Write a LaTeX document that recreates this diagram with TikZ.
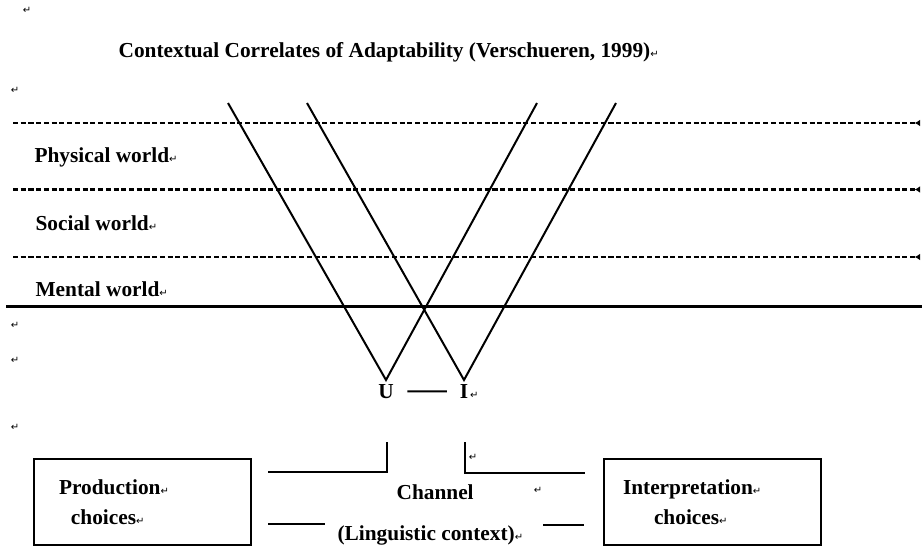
\documentclass[tikz,border=0pt]{standalone}
\usepackage{fontspec}
\setmainfont{Liberation Serif}
\newfontfamily\markfont{DejaVu Sans}
\newcommand{\parmark}{{\normalfont\markfont\fontsize{7.5}{7.5}\selectfont ↵}}
\usetikzlibrary{arrows.meta, positioning}

\begin{document}
\begin{tikzpicture}[x=0.75pt, y=-0.75pt,
    lbl/.style={font=\bfseries\fontsize{16}{22.5}\selectfont, inner sep=1pt},
    pm/.style={inner sep=0pt},
    band/.style={line width=1.6pt, dash pattern=on 3.8pt off 2pt,
                 -{Latex[reversed, length=4pt, width=5pt]}},
    ray/.style={line width=1.5pt},
    box/.style={draw, line width=1.5pt, minimum width=162.75pt,
                minimum height=64.5pt, anchor=north west, align=left,
                font=\bfseries\fontsize{16}{22.5}\selectfont}]
  \useasboundingbox (0,0) rectangle (922,546);

  \node[lbl, anchor=west] (title) at (117,52)
    {Contextual Correlates of Adaptability (Verschueren, 1999)\parmark};
  \node[pm] (m1) at (27,10) {\parmark};
  \node[pm] (m2) at (15,90) {\parmark};
  \node[pm] (m3) at (15,325) {\parmark};
  \node[pm] (m4) at (15,360) {\parmark};
  \node[pm] (m5) at (15,427) {\parmark};

  \draw[band] (13,123) -- (920,123);
  \draw[band] (13,189.5) -- (920,189.5);
  \draw[band] (13,257) -- (920,257);
  \draw[line width=1.8pt] (6,306.5) -- (922,306.5);

  \node[lbl, anchor=west] (phys) at (33,157) {Physical world\parmark};
  \node[lbl, anchor=west] (soc) at (34,223) {Social world\parmark};
  \node[lbl, anchor=west] (ment) at (34,289) {Mental world\parmark};

  \node[lbl, anchor=north, inner ysep=3pt] (U) at (386,380) {U};
  \node[lbl, anchor=north, inner ysep=3pt] (I) at (464,380) {I};
  \node[pm, anchor=base west] (m8) at (I.base east) {\parmark};
  \draw[ray, shorten <=9pt, shorten >=8.6pt] (U) -- (I);

  \coordinate (a1) at (228,103);
  \coordinate (a2) at (307,103);
  \coordinate (a3) at (537,103);
  \coordinate (a4) at (616,103);
  \draw[ray] (a1) -- (U.north) -- (a3);
  \draw[ray] (a2) -- (I.north) -- (a4);

  \node[box, text width=125.25pt, inner xsep=18.75pt] (prod) at (33,458)
    {Production\parmark\\\hspace*{9pt}choices\parmark};
  \node[box, text width=134.25pt, inner xsep=14.25pt] (interp) at (603,458)
    {Interpretation\parmark\\\hspace*{23.25pt}choices\parmark};

  \coordinate (chl) at (387,442);
  \coordinate (chr) at (465,442);
  \coordinate (lw) at (268,472);
  \coordinate (re) at (585,473);
  \draw[ray] (chl) |- (lw);
  \draw[ray] (chr) |- (re);
  \node[pm] (m7) at (473,457) {\parmark};

  \coordinate (ll1) at (268,524);
  \coordinate (ll2) at (325,524);
  \coordinate (rl1) at (543,525);
  \coordinate (rl2) at (584,525);
  \draw[ray] (ll1) -- (ll2);
  \draw[ray] (rl1) -- (rl2);

  \node[lbl, anchor=west] (chan) at (395,492) {Channel};
  \node[pm] (m6) at (538,490) {\parmark};
  \node[lbl, anchor=west] (ling) at (336,535) {(Linguistic context)\parmark};
\end{tikzpicture}
\end{document}
